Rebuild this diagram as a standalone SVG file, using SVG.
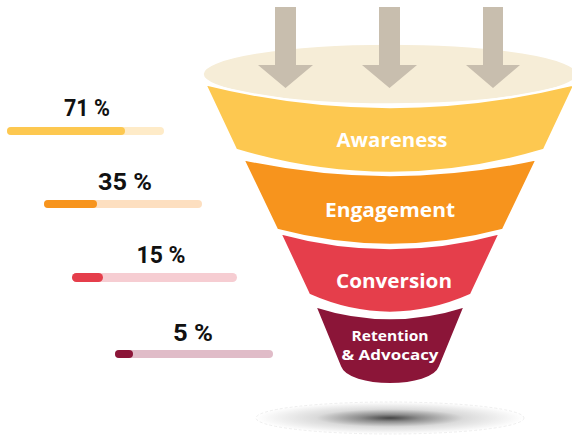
<svg xmlns="http://www.w3.org/2000/svg" width="572" height="436" viewBox="0 0 572 436">
  <defs>
    <radialGradient id="shadowGrad" cx="50%" cy="50%" r="50%">
      <stop offset="0%" stop-color="#444444"/>
      <stop offset="22%" stop-color="#8c8c8c"/>
      <stop offset="55%" stop-color="#dadada"/>
      <stop offset="100%" stop-color="#ffffff"/>
    </radialGradient>
    <style>
      .band-label { font-family: "Open Sans", "DejaVu Sans", sans-serif; font-weight: 700; fill: #ffffff; text-anchor: middle; }
      .pct { font-family: "Roboto", "Liberation Sans", sans-serif; font-weight: 700; fill: #111111; text-anchor: middle; font-size: 23px; }
      .arrow { fill: #C8BEAE; }
      .sep { stroke: #ffffff; stroke-width: 2.5; }
    </style>
  </defs>
  <rect width="572" height="436" fill="#ffffff"/>

  <g id="shadow">
    <ellipse cx="390" cy="418" rx="134" ry="16" fill="url(#shadowGrad)" stroke="#e2e2e2" stroke-width="0.6" stroke-dasharray="3 2"/>
  </g>

  <g id="funnel-top">
    <ellipse cx="390" cy="74" rx="187" ry="30" fill="#F6EDD7" stroke="#ffffff" stroke-width="1.5"/>
  </g>

  <g id="awareness">
    <path d="M205,84 Q390,130 575,84 L544,150 Q390,196 236,150 Z" fill="#FDC850" class="sep"/>
    <text class="band-label" x="392" y="147" font-size="19" textLength="111" lengthAdjust="spacingAndGlyphs">Awareness</text>
  </g>

  <g id="engagement">
    <path d="M243,159 Q390,191 537,159 L503,230 Q390,260 277,230 Z" fill="#F7941D" class="sep"/>
    <text class="band-label" x="390" y="217" font-size="19" textLength="130" lengthAdjust="spacingAndGlyphs">Engagement</text>
  </g>

  <g id="conversion">
    <path d="M280,233 Q390,263 500,233 L471,295 Q390,331 309,295 Z" fill="#E53E4B" class="sep"/>
    <text class="band-label" x="394" y="288" font-size="19" textLength="116" lengthAdjust="spacingAndGlyphs">Conversion</text>
  </g>

  <g id="retention">
    <path d="M315,306 Q390,330 465,306 L440,367 C432,390 348,390 340,367 Z" fill="#8B1538" class="sep"/>
    <text class="band-label" x="390" y="341" font-size="14.5" textLength="77" lengthAdjust="spacingAndGlyphs">Retention</text>
    <text class="band-label" x="390" y="360" font-size="14.5" textLength="97" lengthAdjust="spacingAndGlyphs">&amp; Advocacy</text>
  </g>

  <g id="connectors">
    <path class="arrow" d="M275,7 H296 V65 H313 L285.5,88 L258,65 H275 Z"/>
    <path class="arrow" d="M379,7 H400 V65 H417 L389.5,88 L362,65 H379 Z"/>
    <path class="arrow" d="M483,7 H503 V65 H520 L493,88 L466,65 H483 Z"/>
  </g>

  <g id="bar-71">
    <text class="pct" x="87" y="116" textLength="46" lengthAdjust="spacingAndGlyphs">71 %</text>
    <rect x="7" y="127" width="157" height="8" rx="4" fill="#FEEBC8"/>
    <rect x="7" y="127" width="118" height="8" rx="4" fill="#FDC850"/>
  </g>

  <g id="bar-35">
    <text class="pct" x="125" y="190" textLength="54" lengthAdjust="spacingAndGlyphs">35 %</text>
    <rect x="44" y="200" width="158" height="8" rx="4" fill="#FDDFC0"/>
    <rect x="44" y="200" width="53" height="8" rx="4" fill="#F7941D"/>
  </g>

  <g id="bar-15">
    <text class="pct" x="161" y="263" textLength="49" lengthAdjust="spacingAndGlyphs">15 %</text>
    <rect x="72" y="273" width="165" height="9" rx="4.5" fill="#F6CDD2"/>
    <rect x="72" y="273" width="31" height="9" rx="4.5" fill="#E53E4B"/>
  </g>

  <g id="bar-5">
    <text class="pct" x="193" y="341" textLength="40" lengthAdjust="spacingAndGlyphs">5 %</text>
    <rect x="115" y="350" width="158" height="8" rx="4" fill="#E0BCC8"/>
    <rect x="115" y="350" width="18" height="8" rx="4" fill="#8B1538"/>
  </g>
</svg>
